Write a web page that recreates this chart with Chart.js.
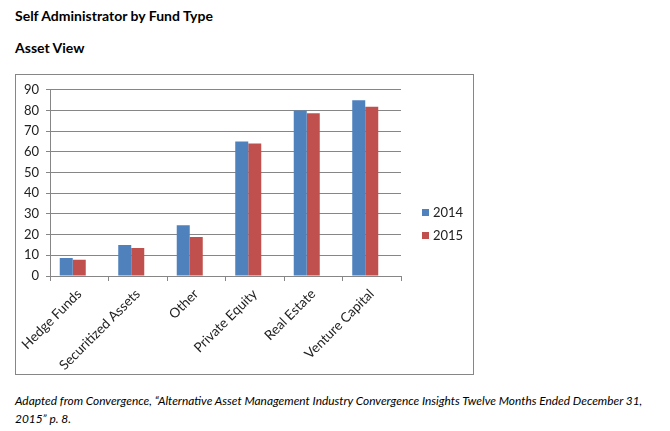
<!DOCTYPE html>
<html>
<head>
<meta charset="utf-8">
<script src="https://cdn.jsdelivr.net/npm/chart.js"></script>
<style>
  html, body { margin: 0; padding: 0; background: #fff; }
  body { width: 670px; height: 431px; position: relative; overflow: hidden; font-family: Lato, "Open Sans", sans-serif; color: #000; }
  .t { position: absolute; left: 15px; white-space: nowrap; }
  #title { top: 7px; font-weight: bold; font-size: 14px; line-height: 18px; }
  #sub { top: 39px; font-weight: bold; font-size: 14px; line-height: 18px; }
  #cap { top: 392px; font-style: italic; font-size: 12px; line-height: 18px; }
  #box { position: absolute; left: 15px; top: 74px; width: 457px; height: 299px; border: 1px solid #868686; }
  #box canvas { display: block; }
</style>
</head>
<body>
<div class="t" id="title">Self Administrator by Fund Type</div>
<div class="t" id="sub">Asset View</div>
<div id="box"><canvas id="c" width="457" height="299"></canvas></div>
<div class="t" id="cap"><span id="cap1">Adapted from Convergence, “Alternative Asset Management Industry Convergence Insights Twelve Months Ended December 31,</span><br>2015” p. 8.</div>
<script>
const categories = ["Hedge Funds", "Securitized Assets", "Other", "Private Equity", "Real Estate", "Venture Capital"];
const values2014 = [8.7, 15, 24.5, 65, 80, 85];
const values2015 = [7.8, 13.5, 18.8, 64, 78.7, 81.8];
const seriesLabels = ["2014", "2015"];
const yTicks = [0, 10, 20, 30, 40, 50, 60, 70, 80, 90];

const colors = ["#4F81BD", "#C0504D"];

// fit caption first line to reference width
(function () {
  const cap = document.getElementById('cap');
  const line = document.getElementById('cap1');
  let fs = 14;
  cap.style.fontSize = fs + 'px';
  while (line.getBoundingClientRect().width > 633 && fs > 8) {
    fs -= 0.1;
    cap.style.fontSize = fs + 'px';
  }
})();

const legendPlugin = {
  id: 'sideLegend',
  afterDraw(chart) {
    const ctx = chart.ctx;
    ctx.save();
    ctx.font = '13px Lato, "Open Sans", sans-serif';
    ctx.textBaseline = 'middle';
    const sets = chart.data.datasets.filter(d => !d.hidden && d.label);
    const x0 = chart.chartArea.right + 21;
    const yc = chart.height / 2;
    const step = 23;
    sets.forEach((d, i) => {
      const y = yc + (i - (sets.length - 1) / 2) * step;
      ctx.fillStyle = d.backgroundColor;
      ctx.fillRect(x0, y - 4, 7, 7);
      ctx.fillStyle = '#222';
      ctx.fillText(d.label, x0 + 11, y);
    });
    ctx.restore();
  }
};

new Chart(document.getElementById('c'), {
  type: 'bar',
  data: {
    labels: categories,
    datasets: [
      { label: seriesLabels[0], data: values2014, backgroundColor: colors[0] },
      { label: seriesLabels[1], data: values2015, backgroundColor: colors[1] },
      { label: '', data: categories.map(() => null), backgroundColor: 'rgba(0,0,0,0)' }
    ]
  },
  options: {
    responsive: false,
    animation: false,
    devicePixelRatio: 1,
    layout: { padding: { top: 14, right: 72, left: 0, bottom: 0 } },
    datasets: { bar: { categoryPercentage: 0.667, barPercentage: 1.0 } },
    plugins: { legend: { display: false }, tooltip: { enabled: false } },
    scales: {
      x: {
        grid: { display: true, drawOnChartArea: false, drawTicks: true, tickLength: 5, color: '#868686', offset: true },
        border: { display: true, color: '#868686' },
        ticks: { color: '#222', font: { size: 13.5, family: 'Lato, "Open Sans", sans-serif' }, minRotation: 45, maxRotation: 45, autoSkip: false, padding: 5 },
        afterFit(scale) { scale.height = 98; }
      },
      y: {
        min: 0, max: 90,
        afterBuildTicks(scale) { scale.ticks = yTicks.map(v => ({ value: v })); },
        grid: { color: '#868686', tickLength: 4 },
        border: { display: true, color: '#868686' },
        ticks: { color: '#222', font: { size: 13, family: 'Lato, "Open Sans", sans-serif' }, padding: 7 },
        afterFit(scale) { scale.width = 34; }
      }
    }
  },
  plugins: [legendPlugin]
});
</script>
</body>
</html>
